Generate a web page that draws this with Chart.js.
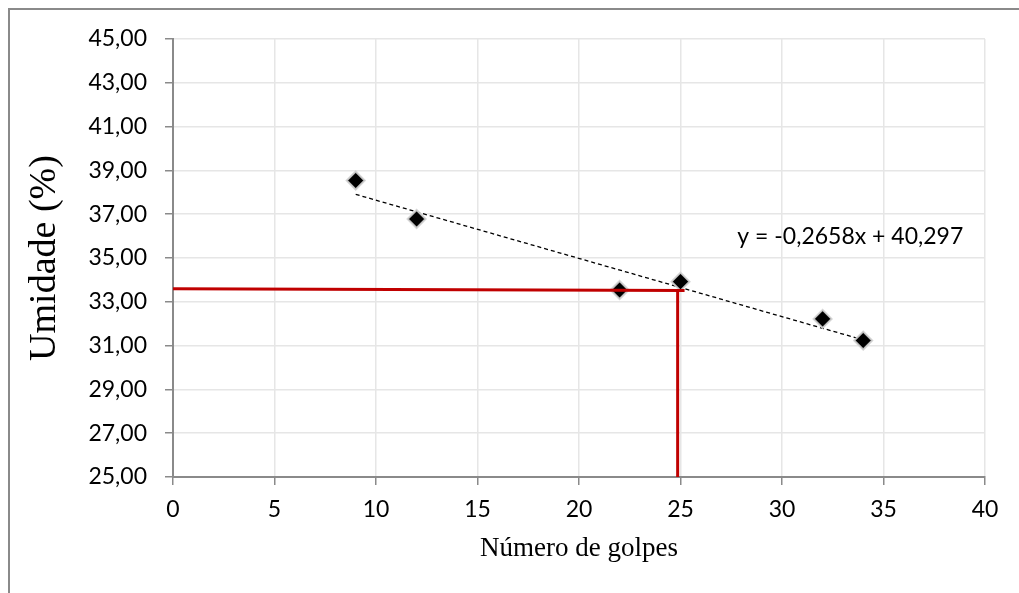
<!DOCTYPE html>
<html>
<head>
<meta charset="utf-8">
<script src="https://cdn.jsdelivr.net/npm/chart.js@4"></script>
<style>
  html, body { margin: 0; padding: 0; background: #fff; }
  #wrap { width: 1019px; height: 593px; }
</style>
</head>
<body>
<div id="wrap"><canvas id="grafico"></canvas></div>
<script>
// dados
const golpes = [9, 12, 22, 25, 32, 34];
const umidade = [38.54, 36.78, 33.54, 33.92, 32.22, 31.23];

// linha de tendência (extremos)
const tendX = [9, 34];
const tendY = [37.905, 31.260];
const equacao = 'y = -0,2658x + 40,297';

// linhas vermelhas (leitura em 25 golpes)
const horizX = [0, 25.2];
const horizY = [33.60, 33.52];
const vertX = [24.86, 24.86];
const vertY = [33.52, 25];

const toPts = (xs, ys) => xs.map((x, i) => ({ x: x, y: ys[i] }));

const fundo = {
    id: 'fundo',
    beforeDraw(chart) {
        const c = chart.ctx;
        c.save();
        c.fillStyle = '#fff';
        c.fillRect(0, 0, chart.width, chart.height);
        c.strokeStyle = '#8a8a8a';
        c.lineWidth = 2;
        c.beginPath();
        c.moveTo(9, chart.height + 5);
        c.lineTo(9, 9);
        c.lineTo(chart.width + 5, 9);
        c.stroke();
        c.restore();
    },
    afterDraw(chart) {
        const c = chart.ctx;
        const xs = chart.scales.x, ys = chart.scales.y;
        c.save();
        c.font = '23px Lato';
        c.fillStyle = '#000';
        c.textAlign = 'left';
        c.textBaseline = 'middle';
        c.fillText(equacao, xs.getPixelForValue(27.8), ys.getPixelForValue(36.0));
        c.restore();
    }
};

new Chart(document.getElementById('grafico').getContext('2d'), {
    type: 'scatter',
    data: {
        datasets: [
            {
                data: toPts(horizX, horizY),
                showLine: true,
                borderColor: '#C00000',
                borderWidth: 3,
                pointRadius: 0,
                order: 0
            },
            {
                data: toPts(vertX, vertY),
                showLine: true,
                borderColor: '#C00000',
                borderWidth: 3,
                pointRadius: 0,
                order: 0
            },
            {
                data: toPts(golpes, umidade),
                pointStyle: 'rectRot',
                pointRadius: 9,
                backgroundColor: '#000',
                borderColor: 'rgba(210,210,210,0.9)',
                borderWidth: 2,
                order: 1
            },
            {
                data: toPts(tendX, tendY),
                showLine: true,
                borderColor: '#000',
                borderWidth: 1.3,
                borderDash: [4, 3],
                pointRadius: 0,
                order: 2
            }
        ]
    },
    options: {
        responsive: true,
        maintainAspectRatio: false,
        animation: false,
        layout: { padding: { top: 39, right: 34, left: 0, bottom: 0 } },
        plugins: {
            legend: { display: false },
            tooltip: { enabled: false }
        },
        scales: {
            x: {
                type: 'linear',
                min: 0,
                max: 40,
                ticks: {
                    stepSize: 5,
                    color: '#000',
                    padding: 11,
                    font: { family: 'Lato', size: 23 }
                },
                grid: { color: '#e6e6e6', lineWidth: 1.5, tickColor: '#8a8a8a', tickLength: 8 },
                border: { color: '#8a8a8a', width: 2 },
                title: {
                    display: true,
                    text: 'Número de golpes',
                    color: '#000',
                    font: { family: 'Liberation Serif', size: 27 },
                    padding: { top: 0, bottom: 28 }
                },
                afterFit(scale) { scale.height = 593 - 477; }
            },
            y: {
                min: 25,
                max: 45,
                ticks: {
                    stepSize: 2,
                    color: '#000',
                    padding: 18,
                    font: { family: 'Lato', size: 23 },
                    callback: v => v.toFixed(2).replace('.', ',')
                },
                grid: { color: '#e6e6e6', lineWidth: 1.5, tickColor: '#8a8a8a', tickLength: 8 },
                border: { color: '#8a8a8a', width: 2 },
                title: {
                    display: true,
                    text: 'Umidade (%)',
                    color: '#000',
                    font: { family: 'Liberation Serif', size: 38 },
                    padding: { top: 22, bottom: 0 }
                },
                afterFit(scale) { scale.width = 173; }
            }
        }
    },
    plugins: [fundo]
});
</script>
</body>
</html>
